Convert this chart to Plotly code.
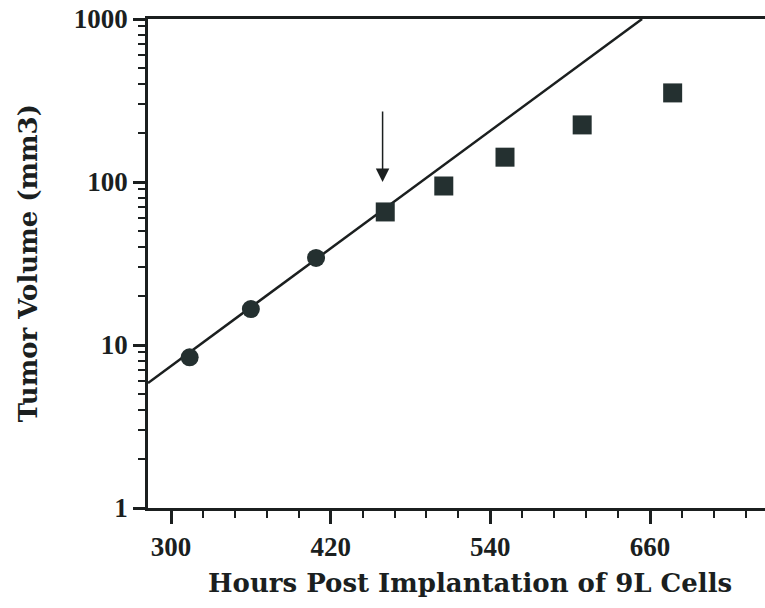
import math
import plotly.graph_objects as go

# Tumor volume measurements (hours post implantation, mm3)
pre_hours = [314, 360, 409]
pre_volume = [8.4, 16.6, 34.2]

post_hours = [461, 505, 551, 609, 677]
post_volume = [65.5, 94.5, 142, 224, 352]

# Exponential growth fit through the early points
fit_hours = [282.7, 654]
fit_volume = [5.85, 1000]

# Arrow marking the start of treatment
arrow_hour = 459
arrow_tip = 100
arrow_tail = 277

x_ticks = [300, 420, 540, 660]
x_minor = [h for h in range(276, 750, 24) if h not in x_ticks]
y_ticks = [1, 10, 100, 1000]
y_minor = [m * d for d in (1, 10, 100) for m in range(2, 10)]

ink = "#1b1f1f"
mark = "#243030"
tick_font = dict(family="Liberation Serif", size=27, color=ink, weight="bold")
title_font = dict(family="DejaVu Serif", size=26, color=ink, weight="bold")

fig = go.Figure()

fig.add_trace(go.Scatter(
    x=fit_hours, y=fit_volume, mode="lines",
    line=dict(color=ink, width=2.5), showlegend=False, hoverinfo="skip",
))
fig.add_trace(go.Scatter(
    x=pre_hours, y=pre_volume, mode="markers",
    marker=dict(symbol="circle", size=18, color=mark), showlegend=False,
))
fig.add_trace(go.Scatter(
    x=post_hours, y=post_volume, mode="markers",
    marker=dict(symbol="square", size=19, color=mark), showlegend=False,
))

fig.add_annotation(
    x=arrow_hour, y=math.log10(arrow_tip),
    ax=arrow_hour, ay=math.log10(arrow_tail),
    xref="x", yref="y", axref="x", ayref="y",
    text="", showarrow=True, arrowhead=2, arrowsize=1.8, arrowwidth=1.5,
    arrowcolor=ink,
)

fig.add_annotation(
    text="Hours Post Implantation of 9L Cells",
    xref="paper", yref="paper", x=0.522, y=-0.153, xanchor="center", yanchor="middle",
    showarrow=False, font=title_font,
)
fig.add_annotation(
    text="Tumor Volume (mm3)",
    xref="paper", yref="paper", x=-0.195, y=0.5, xanchor="center", yanchor="middle",
    textangle=-90, showarrow=False, font=title_font,
)

fig.update_xaxes(
    range=[282.7, 746.4], tickvals=x_ticks, ticktext=[str(v) for v in x_ticks],
    ticks="outside", ticklen=13, tickwidth=2.5, tickcolor=ink,
    minor=dict(tickvals=x_minor, ticks="outside", ticklen=7, tickwidth=2, tickcolor=ink),
    showline=True, linewidth=2.5, linecolor=ink, mirror=True,
    showgrid=False, zeroline=False,
    tickfont=tick_font,
)
fig.update_yaxes(
    type="log", range=[0, 3], tickvals=y_ticks, ticktext=[str(v) for v in y_ticks],
    ticks="outside", ticklen=12, tickwidth=2.5, tickcolor=ink,
    minor=dict(tickvals=y_minor, ticks="outside", ticklen=7, tickwidth=2, tickcolor=ink),
    showline=True, linewidth=2.5, linecolor=ink, mirror=False,
    showgrid=False, zeroline=False,
    tickfont=tick_font,
)

fig.update_layout(
    width=765, height=608,
    margin=dict(l=148, r=0, t=19, b=100),
    paper_bgcolor="white", plot_bgcolor="white",
    font=dict(family="Liberation Serif", color=ink),
)

fig.write_html("out.html")
